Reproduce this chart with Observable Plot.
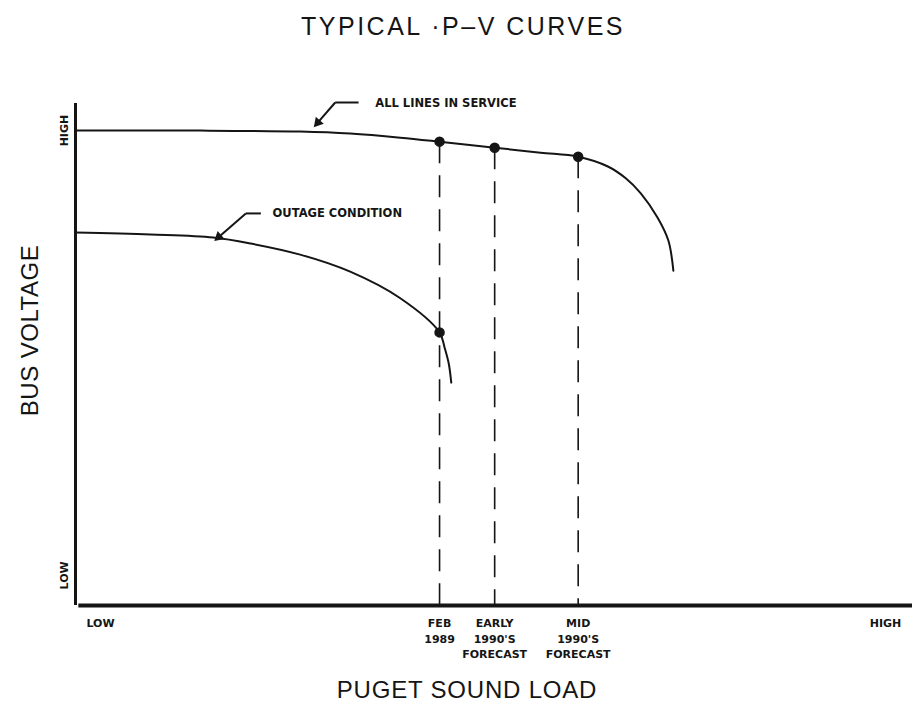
<!DOCTYPE html>
<html>
<head>
<meta charset="utf-8">
<script src="https://cdn.jsdelivr.net/npm/d3@7"></script>
<script src="https://cdn.jsdelivr.net/npm/@observablehq/plot@0.6"></script>
<style>
  body { margin: 0; background: #fff; }
  #chart svg { display: block; background: #fff; }
</style>
</head>
<body>
<div id="chart"></div>
<script>
// ---- data (load and voltage in relative units, 0–100) ----
const allLinesLoad    = [0, 15.0, 26.9, 32.9, 38.9, 43.6, 50.2, 55.7, 60.2, 63.7, 65.9, 67.7, 69.7, 71.0, 71.6];
const allLinesVoltage = [94.6, 94.6, 94.4, 94.0, 93.2, 92.4, 91.2, 90.2, 89.4, 87.5, 85.1, 82.1, 77.3, 72.7, 66.7];

const outageLoad    = [0, 9.0, 16.5, 21.0, 26.9, 32.9, 38.9, 43.6, 44.2, 44.7, 45.0];
const outageVoltage = [74.3, 73.9, 73.3, 72.1, 69.9, 66.5, 61.2, 54.4, 51.4, 48.2, 44.4];

// marked operating points on the curves
const pointLoad    = [43.6, 50.2, 60.2, 43.6];
const pointVoltage = [92.4, 91.2, 89.4, 54.4];

// dashed drop lines (from all-lines curve to axis)
const dropLoad    = [43.6, 50.2, 60.2];
const dropVoltage = [92.4, 91.2, 89.4];

// axis tick values and labels
const xTickValues = [3.0, 43.6, 50.2, 60.2, 97.0];
const xTickLabels = ["LOW", "FEB\n1989", "EARLY\n1990'S\nFORECAST", "MID\n1990'S\nFORECAST", "HIGH"];
const yTickValues = [94.6, 6.0];
const yTickLabels = ["HIGH", "LOW"];

// curve annotations
const annotText  = ["ALL LINES IN SERVICE", "OUTAGE CONDITION"];
const annotTextX = [35.9, 23.6];
const annotTextY = [100.0, 78.1];
const annotElbowX = [31.1, 20.4];
const annotElbowY = [100.2, 78.1];
const annotTailX  = [33.9, 22.2];
const annotTipX   = [28.7, 16.8];
const annotTipY   = [95.6, 72.9];

const titleText = "TYPICAL ·P–V CURVES";
const xLabel = "PUGET SOUND LOAD";
const yLabel = "BUS VOLTAGE";

// ---- layout ----
const W = 912, H = 704;
const mL = 75, mR = 2, mT = 103, mB = 99;
const xOpts = {domain: [0, 100], range: [mL, W - mR], label: null};
const yOpts = {domain: [0, 100], range: [H - mB, mT], label: null};
const sx = Plot.scale({x: xOpts});
const sy = Plot.scale({y: yOpts});

// ---- build tables ----
const allLines = allLinesLoad.map((x, i) => ({x, y: allLinesVoltage[i]}));
const outage = outageLoad.map((x, i) => ({x, y: outageVoltage[i]}));
const points = pointLoad.map((x, i) => ({x, y: pointVoltage[i]}));
const drops = dropLoad.map((x, i) => ({x, y: dropVoltage[i]}));
const annots = annotText.map((t, i) => {
  // arrowhead orientation computed in screen space from the scales
  const ex = sx.apply(annotElbowX[i]), ey = sy.apply(annotElbowY[i]);
  const px = sx.apply(annotTipX[i]), py = sy.apply(annotTipY[i]);
  const len = Math.hypot(px - ex, py - ey);
  const ux = (px - ex) / len, uy = (py - ey) / len;
  const angle = Math.atan2(ux, -uy) * 180 / Math.PI;
  const back = 4;
  return {
    t, tx: annotTextX[i], ty: annotTextY[i],
    ex: annotElbowX[i], ey: annotElbowY[i], hx: annotTailX[i],
    px: annotTipX[i], py: annotTipY[i],
    hcx: sx.invert(px - ux * back), hcy: sy.invert(py - uy * back),
    angle
  };
});
const xLabelMap = new Map(xTickValues.map((v, i) => [v, xTickLabels[i]]));
const yLabelMap = new Map(yTickValues.map((v, i) => [v, yTickLabels[i]]));

const ink = "#151515";
const smallFont = "DejaVu Sans, sans-serif";
const bigFont = "Liberation Sans, Arial, sans-serif";

const chart = Plot.plot({
  width: W,
  height: H,
  marginLeft: mL,
  marginRight: mR,
  marginTop: mT,
  marginBottom: mB,
  style: {background: "#fff", color: ink},
  x: xOpts,
  y: yOpts,
  marks: [
    // dashed drop lines
    Plot.ruleX(drops, {x: "x", y1: "y", y2: 0, stroke: ink, strokeWidth: 1.6, strokeDasharray: "22,12"}),
    // axes lines
    Plot.ruleX([0], {y1: 0, y2: 100, stroke: ink, strokeWidth: 3}),
    Plot.ruleY([0], {x1: 0.4, x2: 100.3, stroke: ink, strokeWidth: 4}),
    // curves
    Plot.line(allLines, {x: "x", y: "y", curve: "catmull-rom", stroke: ink, strokeWidth: 2}),
    Plot.line(outage, {x: "x", y: "y", curve: "catmull-rom", stroke: ink, strokeWidth: 2}),
    // operating points
    Plot.dot(points, {x: "x", y: "y", r: 4.5, fill: ink, stroke: ink}),
    // annotation leaders
    Plot.link(annots, {x1: "ex", y1: "ey", x2: "hx", y2: "ey", stroke: ink, strokeWidth: 2}),
    Plot.link(annots, {x1: "ex", y1: "ey", x2: "hcx", y2: "hcy", stroke: ink, strokeWidth: 2}),
    Plot.dot(annots, {x: "hcx", y: "hcy", symbol: "triangle2", r: 5, rotate: "angle", fill: ink}),
    Plot.text(annots, {x: "tx", y: "ty", text: "t", textAnchor: "start", fontSize: 11.5, fontWeight: "bold", fontFamily: smallFont, fill: ink}),
    // axes ticks
    Plot.axisX(xTickValues, {
      tickFormat: d => xLabelMap.get(d), tickSize: 0, tickPadding: 11, label: null,
      fontSize: 11, fontWeight: "bold", fontFamily: smallFont, lineHeight: 1.4, fill: ink
    }),
    Plot.axisY(yTickValues, {
      tickFormat: d => yLabelMap.get(d), tickSize: 0, tickRotate: -90, tickPadding: 8, label: null,
      fontSize: 11, fontWeight: "bold", fontFamily: smallFont, fill: ink
    }),
    // title and axis titles
    Plot.text([titleText], {frameAnchor: "top", textAnchor: "middle", lineAnchor: "middle", dx: -30, dy: -77, fontSize: 25, fontFamily: bigFont, fill: ink}),
    Plot.text([yLabel], {frameAnchor: "left", textAnchor: "middle", lineAnchor: "middle", rotate: -90, dx: -45, dy: -24, fontSize: 24, fontFamily: bigFont, fill: ink}),
    Plot.text([xLabel], {frameAnchor: "bottom", textAnchor: "middle", lineAnchor: "middle", dx: -26, dy: 85, fontSize: 24, fontFamily: bigFont, fill: ink})
  ]
});

// letter spacing for the large, widely tracked labels
const spacing = new Map([[titleText, "2.5px"], [xLabel, "0.8px"], [yLabel, "0.5px"]]);
d3.select(chart).selectAll("text").each(function() {
  const s = spacing.get(this.textContent);
  if (s) this.style.letterSpacing = s;
});

document.getElementById("chart").appendChild(chart);
</script>
</body>
</html>
